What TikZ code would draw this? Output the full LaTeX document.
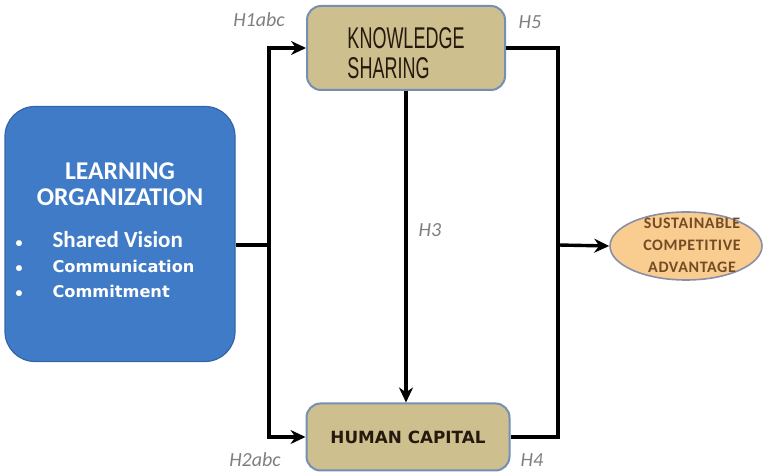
\documentclass[tikz,border=0pt]{standalone}
\usepackage{fontspec}
\setmainfont{Carlito}
\newfontfamily\narrowfont[FakeStretch=0.6]{Liberation Sans}
\newfontfamily\wideboldfont{DejaVu Sans}
\newfontfamily\spacedfont[LetterSpace=4]{Carlito}
\usepackage{tikz}
\usetikzlibrary{shapes.geometric,arrows.meta}

\definecolor{loblue}{HTML}{3F7BC6}
\definecolor{loborder}{HTML}{3465A6}
\definecolor{kstan}{HTML}{CDBF8E}
\definecolor{ksborder}{HTML}{7390B4}
\definecolor{scaorange}{HTML}{F9CC90}
\definecolor{scaborder}{HTML}{8A8FA8}
\definecolor{hgray}{HTML}{7F7F7F}

\newcommand{\lotitle}{\fontsize{12.8}{15}\selectfont\bfseries}
\newcommand{\lolist}{\wideboldfont\fontsize{8.1}{12}\selectfont\bfseries}
\newcommand{\lobullet}{{\fontsize{7}{8}\selectfont\bfseries\textbullet}}

\begin{document}
\begin{tikzpicture}[x=0.5pt,y=-0.5pt,
    lobox/.style={draw=loborder, line width=0.6pt, fill=loblue, rounded corners=15pt,
      minimum width=115pt, minimum height=127.5pt, text=white, inner sep=0pt},
    tanbox/.style={draw=ksborder, line width=1pt, fill=kstan, rounded corners=7pt,
      inner sep=0pt, text={black!80!brown}},
    hlabel/.style={text=hgray, font=\fontsize{10}{12}\selectfont\itshape},
    conn/.style={line width=1.7pt, black},
    arr/.style={conn, -{Stealth[length=7.5pt,width=7pt]}}]
  \useasboundingbox (0,0) rectangle (770,474);

  % boxes
  \node[lobox] (lo) at (120,234) {\begin{tabular}{@{}l@{}}
      \multicolumn{1}{@{}c@{}}{\lotitle LEARNING}\\[1pt]
      \multicolumn{1}{@{}c@{}}{\lotitle ORGANIZATION}\\[9pt]
      \hspace{-5pt}\begin{tabular}{@{}l@{\hspace{15pt}}l@{}}
        \lobullet & \fontsize{11.5}{12}\selectfont\bfseries Shared Vision\\[0.5pt]
        \lobullet & \lolist Communication\\[0.5pt]
        \lobullet & \lolist Commitment
      \end{tabular}\hspace{10pt}
    \end{tabular}};
  \node[tanbox, minimum width=99pt, minimum height=42pt,
    font=\narrowfont\fontsize{15}{17}\selectfont] (ks) at (406,48)
    {\raisebox{-4.5pt}[\height][\depth]{\begin{tabular}{@{}l@{}}KNOWLEDGE\\[-2pt]SHARING\end{tabular}}\hspace{4pt}};
  \node[tanbox, minimum width=101.5pt, minimum height=33.5pt,
    font=\wideboldfont\fontsize{8.4}{9}\selectfont\bfseries] (hc) at (408,437) {HUMAN CAPITAL};
  \node[ellipse, draw=scaborder, line width=0.8pt, fill=scaorange, minimum width=76pt,
    minimum height=34pt, inner sep=0pt] (sca) at (686,246) {};
  \node[text=brown!60!black, inner sep=0pt, font=\spacedfont\fontsize{8}{11.5}\selectfont\bfseries]
    (scatext) at ([xshift=3pt]sca.center)
    {\begin{tabular}{@{}c@{}}SUSTAINABLE\\[-0.5pt]COMPETITIVE\\[-0.5pt]ADVANTAGE\end{tabular}};

  % connectors
  \coordinate (split) at (269,245);
  \coordinate (join) at (558,245);
  \draw[conn] (split -| lo.east) -- (split);
  \draw[arr] (split) |- (ks.west);
  \draw[arr] (split) |- (hc.west);
  \draw[arr] (ks.south) -- (ks.south |- hc.north);
  \draw[conn] (ks.east) -| (join);
  \draw[conn] (hc.east) -| (join);
  \draw[arr] (join) -- (sca.west);

  % hypotheses
  \node[hlabel] (h1) at (259,20) {H1abc};
  \node[hlabel] (h5) at (530,22) {H5};
  \node[hlabel] (h3) at (430,230) {H3};
  \node[hlabel] (h2) at (255,460) {H2abc};
  \node[hlabel] (h4) at (532,460) {H4};
\end{tikzpicture}
\end{document}
